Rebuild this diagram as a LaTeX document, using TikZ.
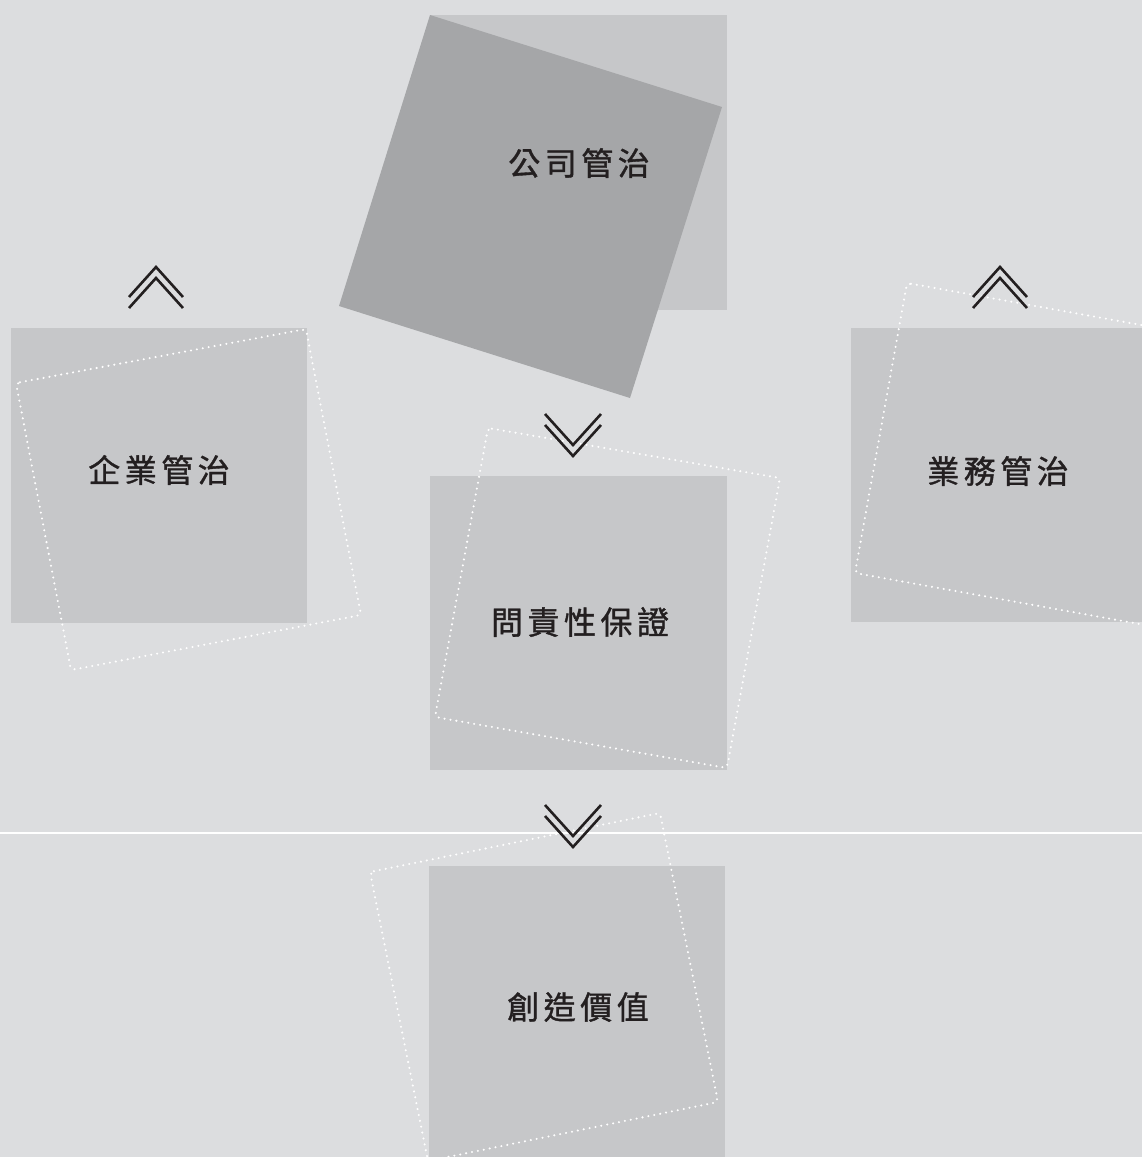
\documentclass[tikz,border=0pt]{standalone}
\usepackage{fontspec}
\newfontfamily\cjk[FakeBold=1.2]{Noto Sans CJK TC}
\definecolor{bgc}{HTML}{DCDDDF}
\definecolor{boxc}{HTML}{C6C7C9}
\definecolor{darkc}{HTML}{A5A6A8}
\definecolor{txtc}{HTML}{231F20}
\newcommand{\tk}{\hspace{4.5pt}}
\tikzset{
  lightbox/.style={fill=boxc, draw=none},
  darkbox/.style={fill=darkc, draw=none},
  dotbox/.style={draw=white, line width=2.3pt, line cap=round, dash pattern=on 0pt off 6pt, rounded corners=4pt},
  label/.style={font=\cjk\fontsize{32}{36}\selectfont, text=txtc, inner sep=0pt},
  chev/.style={draw=txtc, line width=2.6pt, line join=miter}
}
\begin{document}
\begin{tikzpicture}[x=1pt,y=-1pt]
\useasboundingbox (0,0) rectangle (1142,1157);
\clip (0,0) rectangle (1142,1157);
\fill[bgc] (0,0) rectangle (1142,1157);
% separator line
\draw[white, line width=1.2pt] (0,833) -- (1142,833);
% top
\fill[lightbox] (431,15) rectangle (727,310);
\fill[darkbox] (430,15) -- (722,107) -- (630,398) -- (339,306) -- cycle;
\node[label] (top) at (579,163) {公\tk 司\tk 管\tk 治};
% left
\fill[lightbox] (11,328) rectangle (307,623);
\draw[dotbox] (16,383) -- (306,329) -- (361,615) -- (71,670) -- cycle;
\node[label] (left) at (159,470) {企\tk 業\tk 管\tk 治};
% right
\fill[lightbox] (851,328) rectangle (1150,622);
\draw[dotbox] (907,283) -- (1197,335) -- (1145,625) -- (855,573) -- cycle;
\node[label] (right) at (998,471) {業\tk 務\tk 管\tk 治};
% center
\fill[lightbox] (430,476) rectangle (727,770);
\draw[dotbox] (488,428) -- (780,478) -- (727,768) -- (435,717) -- cycle;
\node[label] (mid) at (580,622) {問\tk 責\tk 性\tk 保\tk 證};
% bottom
\fill[lightbox] (429,866) rectangle (725,1160);
\draw[dotbox] (370,872) -- (660,813) -- (718,1102) -- (428,1161) -- cycle;
\node[label] (bot) at (578,1007) {創\tk 造\tk 價\tk 值};
% chevrons
\draw[chev] (129,297) -- (156,267) -- (183,297);
\draw[chev] (129,308) -- (156,278) -- (183,308);
\draw[chev] (973,297) -- (1000,267) -- (1027,297);
\draw[chev] (973,308) -- (1000,278) -- (1027,308);
\draw[chev] (545,414) -- (573,445) -- (601,414);
\draw[chev] (545,425) -- (573,456) -- (601,425);
\draw[chev] (545,805) -- (573,836) -- (601,805);
\draw[chev] (545,816) -- (573,847) -- (601,816);
\end{tikzpicture}
\end{document}
